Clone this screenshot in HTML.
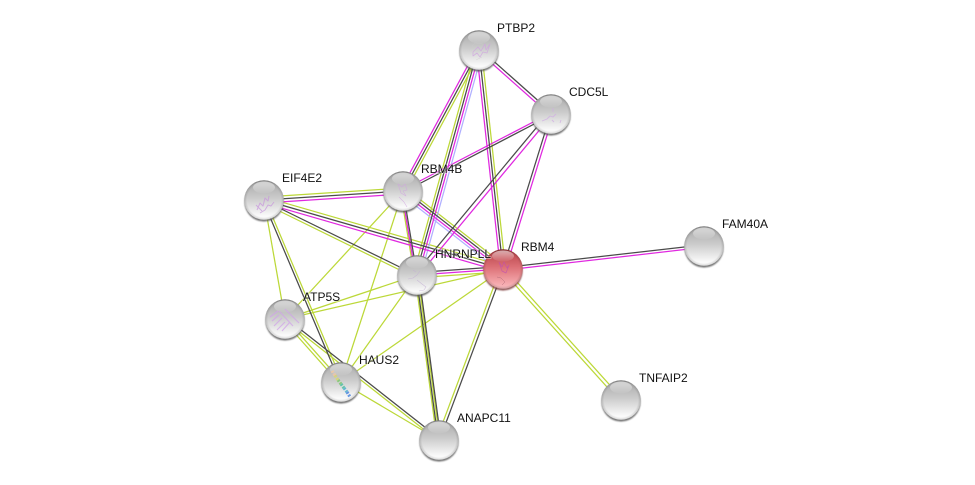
<!DOCTYPE html>
<html>
<head>
<meta charset="utf-8">
<style>
html,body{margin:0;padding:0;background:#fff;}
svg{display:block;}
text{font-family:"Liberation Sans",sans-serif;font-size:12px;fill:#111;paint-order:stroke;stroke:rgba(255,255,255,.5);stroke-width:1.5px;}
.k line{stroke:#4a4a4a;}
.m line{stroke:#e028e0;}
.y line{stroke:#bcd838;}
.b line{stroke:#b0b0ff;}
line{stroke-width:1.25;}
</style>
</head>
<body>
<svg width="975" height="485" viewBox="0 0 975 485" xmlns="http://www.w3.org/2000/svg">
<defs>
<linearGradient id="g" x1="0" y1="0" x2="0" y2="1">
<stop offset="0" stop-color="#8e8e8e"/>
<stop offset=".12" stop-color="#b0b0b0"/>
<stop offset=".45" stop-color="#cbcbcb"/>
<stop offset=".88" stop-color="#f8f8f8"/>
<stop offset="1" stop-color="#fff"/>
</linearGradient>
<linearGradient id="r" x1="0" y1="0" x2="0" y2="1">
<stop offset="0" stop-color="#8e2a2e"/>
<stop offset=".12" stop-color="#c04c52"/>
<stop offset=".45" stop-color="#dc7076"/>
<stop offset=".88" stop-color="#f6acb0"/>
<stop offset="1" stop-color="#f8bcc0"/>
</linearGradient>
<radialGradient id="e" cx=".5" cy=".5" r=".5">
<stop offset=".86" stop-color="#000" stop-opacity="0"/>
<stop offset="1" stop-color="#000" stop-opacity=".16"/>
</radialGradient>
<linearGradient id="h" x1="0" y1="0" x2="0" y2="1">
<stop offset="0" stop-color="#fff" stop-opacity=".6"/>
<stop offset="1" stop-color="#fff" stop-opacity=".04"/>
</linearGradient>
<filter id="s" x="-30%" y="-30%" width="160%" height="160%"><feGaussianBlur stdDeviation=".9"/></filter>
<g id="ball">
<circle cx="0" cy="2" r="19.6" fill="#555" opacity=".8" filter="url(#s)"/>
<circle r="19.8" fill="url(#g)"/>
<circle r="19.8" fill="url(#e)"/>
<ellipse cx="0" cy="-12.500" rx="11" ry="6" fill="url(#h)"/>
</g>
<g id="redball">
<circle cx="0" cy="2" r="19.6" fill="#733" opacity=".8" filter="url(#s)"/>
<circle r="19.8" fill="url(#r)"/>
<circle r="19.8" fill="url(#e)"/>
<ellipse cx="0" cy="-13" rx="11" ry="5.500" fill="url(#h)"/>
</g>
</defs>
<rect width="975" height="485" fill="#fff"/>

<g class="y">
<line x1="475.4" y1="49" x2="413.4" y2="274"/>
<line x1="481.5" y1="49.7" x2="505.5" y2="268.7"/>
<line x1="481.2" y1="51.2" x2="405.2" y2="192.2"/>
<line x1="264.8" y1="197" x2="403.8" y2="188"/>
<line x1="264.8" y1="197.2" x2="503.8" y2="266.2"/>
<line x1="263" y1="203" x2="416" y2="278"/>
<line x1="264" y1="200" x2="285" y2="319"/>
<line x1="265.2" y1="199.5" x2="342.2" y2="381.500"/>
<line x1="285" y1="319" x2="403" y2="191"/>
<line x1="285" y1="319" x2="417" y2="275"/>
<line x1="285" y1="319" x2="503" y2="269"/>
<line x1="283.5" y1="320.5" x2="339.5" y2="383.5"/>
<line x1="285.6" y1="318.4" x2="341.6" y2="381.4"/>
<line x1="284.5" y1="320" x2="438.5" y2="441"/>
<line x1="341" y1="382" x2="403" y2="191"/>
<line x1="341" y1="382" x2="417" y2="275"/>
<line x1="341" y1="382" x2="503" y2="269"/>
<line x1="341" y1="382" x2="439" y2="440"/>
<line x1="415" y1="275.3" x2="437" y2="440.3"/>
<line x1="417.8" y1="274.9" x2="439.8" y2="439.9"/>
<line x1="500.6" y1="268.2" x2="436.6" y2="439.2"/>
<line x1="417.4" y1="277.8" x2="503.4" y2="271.8"/>
<line x1="501.8" y1="270.2" x2="619.8" y2="401.2"/>
<line x1="504.2" y1="267.8" x2="622.2" y2="398.8"/>
<line x1="400.4" y1="191.4" x2="414.4" y2="275.4"/>
<line x1="405.3" y1="188" x2="505.3" y2="266"/>
</g>
<g class="b">
<line x1="482.6" y1="51" x2="420.6" y2="276"/>
<line x1="400.7" y1="194" x2="500.7" y2="272"/>
</g>
<g class="m">
<line x1="478" y1="51" x2="550" y2="115"/>
<line x1="476.8" y1="48.8" x2="400.8" y2="189.8"/>
<line x1="480.2" y1="50.3" x2="418.2" y2="275.3"/>
<line x1="476.5" y1="50.3" x2="500.5" y2="269.3"/>
<line x1="550.5" y1="113" x2="402.5" y2="190"/>
<line x1="552" y1="115" x2="418" y2="276"/>
<line x1="553.4" y1="114.7" x2="505.4" y2="269.7"/>
<line x1="401.6" y1="191" x2="415.6" y2="275"/>
<line x1="402.2" y1="192" x2="502.2" y2="270"/>
<line x1="264.2" y1="203" x2="403.2" y2="194"/>
<line x1="263.2" y1="202.8" x2="502.2" y2="271.8"/>
<line x1="417" y1="275" x2="503" y2="269"/>
<line x1="503.2" y1="270.3" x2="704.2" y2="247.3"/>
</g>
<g class="k">
<line x1="480" y1="49" x2="552" y2="113"/>
<line x1="479" y1="50" x2="403" y2="191"/>
<line x1="477.8" y1="49.7" x2="415.8" y2="274.7"/>
<line x1="479" y1="50" x2="503" y2="269"/>
<line x1="551.5" y1="115" x2="403.5" y2="192"/>
<line x1="549" y1="112.5" x2="415" y2="273.5"/>
<line x1="550.8" y1="113.6" x2="502.8" y2="268.6"/>
<line x1="403" y1="190.8" x2="417" y2="274.8"/>
<line x1="403.8" y1="190" x2="503.8" y2="268"/>
<line x1="264" y1="200" x2="403" y2="191"/>
<line x1="264" y1="200" x2="503" y2="269"/>
<line x1="264" y1="200.5" x2="417" y2="275.5"/>
<line x1="263" y1="200.5" x2="340" y2="382.5"/>
<line x1="286" y1="318" x2="440" y2="439"/>
<line x1="416.2" y1="275.1" x2="438.2" y2="440.1"/>
<line x1="418.9" y1="274.8" x2="440.9" y2="439.8"/>
<line x1="503.2" y1="269.8" x2="439.2" y2="440.8"/>
<line x1="417" y1="272.5" x2="503" y2="266.5"/>
<line x1="503" y1="267.7" x2="704" y2="244.7"/>
</g>

<use href="#ball" x="479" y="50"/>
<use href="#ball" x="551" y="114"/>
<use href="#ball" x="403" y="191"/>
<use href="#ball" x="264" y="200"/>
<use href="#ball" x="417" y="275"/>
<use href="#redball" x="503" y="269"/>
<use href="#ball" x="704" y="246"/>
<use href="#ball" x="285" y="319"/>
<use href="#ball" x="341" y="382"/>
<use href="#ball" x="439" y="440"/>
<use href="#ball" x="621" y="400"/>

<g fill="none" stroke-linejoin="round" opacity=".75">
<path d="M473 52l5-5 3 4 4-7 1 6 4-6-3 9-4-1-3 5-3-4-4 3z" stroke="#d0a4e0" stroke-width=".8"/>
<path d="M469 50l6-7 8 1M476 60l6-3" stroke="#ccc" stroke-width=".5"/>
<path d="M542 121l5-2 3-3 3 1 3-3M552 120l2 2M560 123l1-3M553 108v4" stroke="#d0acE4" stroke-width=".9"/>
<path d="M398 184l4 3 3-3 2 6-4 1 3 5-5-3-2-6zM399 197l5 5 3 5" stroke="#d0a4e0" stroke-width=".6"/>
<path d="M257 210l3-7 3 3 2-8 3 3 1-5M260 213l5-3 3-5 3 1 3-4M256 205l6 6" stroke="#c898dc" stroke-width="1"/>
<path d="M408 279l5-1 4-3 3-4M413 270l3 2M417 280l5 4 4 3-2 3-5 1" stroke="#c4b0d4" stroke-width=".6"/>
<path d="M499 262l3 5 2-5 3 6 2-3-3 8-4-2-2-6z" stroke="#c050b0" stroke-width=".7"/>
<path d="M497 277l4 1 4 4-3 3" stroke="#a86070" stroke-width=".5"/>
<path d="M272 321l7-6M274 326l8-8M277 330l8-8M282 331l8-9M270 317l8-6M279 311l14 15M285 309l14 14" stroke="#d0a4e8" stroke-width="1.2"/>
</g>
<g fill="none" stroke-width="3.2" stroke-dasharray="2 1.2" opacity=".85">
<path d="M332 371l3 4.500" stroke="#f0c8a4"/>
<path d="M335 375.500l3 4.500" stroke="#d8d870"/>
<path d="M338 380l3 4" stroke="#80c870"/>
<path d="M341 384l3 4" stroke="#50c0a0"/>
<path d="M344 388l3 4" stroke="#50b0d0"/>
<path d="M347 392l3 5" stroke="#5088e0"/>
</g>

<text x="497" y="32">PTBP2</text>
<text x="569" y="96">CDC5L</text>
<text x="421" y="173">RBM4B</text>
<text x="282" y="182">EIF4E2</text>
<text x="435" y="258">HNRNPLL</text>
<text x="521" y="251">RBM4</text>
<text x="722" y="228">FAM40A</text>
<text x="303" y="301">ATP5S</text>
<text x="359" y="364">HAUS2</text>
<text x="457" y="422">ANAPC11</text>
<text x="639" y="382">TNFAIP2</text>
</svg>
</body>
</html>
